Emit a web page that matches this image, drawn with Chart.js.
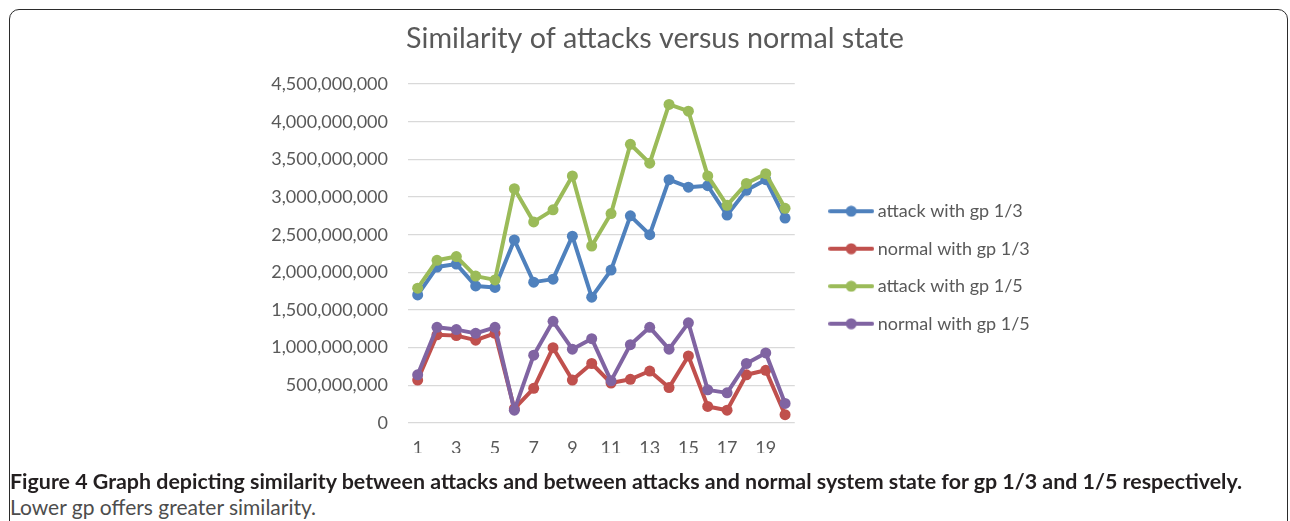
<!DOCTYPE html>
<html>
<head>
<meta charset="utf-8">
<script src="https://cdn.jsdelivr.net/npm/chart.js@4/dist/chart.umd.min.js"></script>
<style>
  html, body { margin: 0; padding: 0; background: #ffffff; }
  body { width: 1290px; height: 521px; position: relative; overflow: hidden; }
  #frame {
    position: absolute; left: 9px; top: 9px; width: 1279px; height: 600px;
    border: 1.5px solid #2b2b2b; border-radius: 10px; box-sizing: border-box;
  }
  #chart { position: absolute; left: 0; top: 0; }
  .caption {
    position: absolute; left: 10px; font-family: Lato, "Open Sans", sans-serif;
    white-space: nowrap; color: #231f20; font-size: 21px; line-height: 25px;
  }
  #cap1 { top: 469px; font-weight: bold; font-size: 21.4px; }
  #cap2 { top: 494px; color: #4d4d4d; }
</style>
</head>
<body>
<div id="frame"></div>
<canvas id="chart" width="1290" height="470"></canvas>
<div class="caption" id="cap1">Figure 4 Graph depicting similarity between attacks and between attacks and normal system state for gp 1/3 and 1/5 respectively.</div>
<div class="caption" id="cap2">Lower gp offers greater similarity.</div>
<script>
// Sample index along the horizontal axis
const categories = ['1','2','3','4','5','6','7','8','9','10','11','12','13','14','15','16','17','18','19','20'];

// Similarity scores per sample
const attackGp13 = [1.70e9, 2.07e9, 2.11e9, 1.82e9, 1.80e9, 2.43e9, 1.87e9, 1.91e9, 2.48e9, 1.67e9,
                    2.03e9, 2.75e9, 2.50e9, 3.23e9, 3.13e9, 3.15e9, 2.76e9, 3.09e9, 3.23e9, 2.72e9];
const normalGp13 = [0.57e9, 1.17e9, 1.16e9, 1.10e9, 1.19e9, 0.19e9, 0.46e9, 1.00e9, 0.57e9, 0.79e9,
                    0.53e9, 0.58e9, 0.69e9, 0.47e9, 0.89e9, 0.22e9, 0.17e9, 0.64e9, 0.70e9, 0.11e9];
const attackGp15 = [1.79e9, 2.16e9, 2.21e9, 1.95e9, 1.90e9, 3.11e9, 2.67e9, 2.83e9, 3.28e9, 2.35e9,
                    2.78e9, 3.70e9, 3.45e9, 4.23e9, 4.14e9, 3.28e9, 2.89e9, 3.18e9, 3.31e9, 2.85e9];
const normalGp15 = [0.64e9, 1.27e9, 1.24e9, 1.19e9, 1.27e9, 0.17e9, 0.90e9, 1.35e9, 0.98e9, 1.12e9,
                    0.56e9, 1.04e9, 1.27e9, 0.98e9, 1.33e9, 0.44e9, 0.40e9, 0.79e9, 0.93e9, 0.26e9];

const seriesNames = ['attack with gp 1/3', 'normal with gp 1/3', 'attack with gp 1/5', 'normal with gp 1/5'];
const seriesColors = ['#4f81bd', '#c0504d', '#9bbb59', '#8064a2'];

const yMin = 0, yMax = 4.5e9, yStep = 0.5e9;

const FONT = 'Lato, "Open Sans", sans-serif';
const TEXT_COLOR = '#595959';

// Legend swatch: a short line with a round marker in the middle
function lineMarker(color) {
  const c = document.createElement('canvas');
  c.width = 46; c.height = 12;
  const g = c.getContext('2d');
  g.strokeStyle = color; g.lineWidth = 4; g.lineCap = 'round';
  g.beginPath(); g.moveTo(2, 6); g.lineTo(44, 6); g.stroke();
  g.fillStyle = color;
  g.beginPath(); g.arc(23, 6, 5.5, 0, Math.PI * 2); g.fill();
  return c;
}

const seriesData = [attackGp13, normalGp13, attackGp15, normalGp15];
const drawOrder = [4, 3, 2, 1];

const datasets = seriesNames.map((name, i) => ({
  label: name,
  data: seriesData[i],
  borderColor: seriesColors[i],
  backgroundColor: seriesColors[i],
  borderWidth: 4,
  borderJoinStyle: 'round',
  borderCapStyle: 'round',
  pointRadius: 5.5,
  pointHoverRadius: 5.5,
  pointBorderWidth: 0,
  pointBackgroundColor: seriesColors[i],
  pointStyle: 'circle',
  order: drawOrder[i],
  tension: 0,
  fill: false
}));

const swatches = seriesColors.map(lineMarker);

// Nudges the legend block and the title into place around the plot
const blockNudge = {
  id: 'blockNudge',
  afterLayout(chart) {
    const lg = chart.legend;
    if (lg) {
      lg.left += 19.5; lg.right += 19.5 + 80;
      lg.top += 36; lg.bottom += 36;
    }
    const tb = chart.titleBlock;
    if (tb) {
      const shift = 655 - (tb.left + tb.right) / 2;
      tb.left += shift; tb.right += shift;
    }
  }
};

new Chart(document.getElementById('chart'), {
  type: 'line',
  data: { labels: categories, datasets },
  plugins: [blockNudge],
  options: {
    responsive: false,
    animation: false,
    devicePixelRatio: 1,
    layout: { padding: { left: 260, right: 317, top: 10, bottom: 17 } },
    plugins: {
      tooltip: { enabled: false },
      title: {
        display: true,
        text: 'Similarity of attacks versus normal state',
        color: TEXT_COLOR,
        font: { family: FONT, size: 28.7, weight: 'normal' },
        padding: { top: 11.8, bottom: 27.8 }
      },
      legend: {
        position: 'right',
        labels: {
          color: TEXT_COLOR,
          font: { family: FONT, size: 18 },
          usePointStyle: true,
          pointStyleWidth: 35,
          padding: 19.5,
          sort: (a, b) => a.datasetIndex - b.datasetIndex,
          generateLabels(chart) {
            return chart.data.datasets.map((ds, i) => ({
              text: ds.label,
              fillStyle: ds.borderColor,
              strokeStyle: ds.borderColor,
              lineWidth: 0,
              pointStyle: swatches[i],
              fontColor: TEXT_COLOR,
              hidden: false,
              datasetIndex: i
            }));
          }
        }
      }
    },
    scales: {
      x: {
        offset: true,
        grid: { display: false, drawTicks: false },
        border: { display: false },
        afterFit(scale) { scale.height = 30; },
        ticks: {
          autoSkip: false,
          maxRotation: 0,
          padding: 14,
          color: TEXT_COLOR,
          font: { family: FONT, size: 18 },
          callback: (v, i) => (i % 2 === 0 ? categories[i] : '')
        }
      },
      y: {
        min: yMin,
        max: yMax,
        grid: { color: '#d9d9d9', lineWidth: 1.3, drawTicks: false },
        border: { display: false },
        afterFit(scale) { scale.width = 148; },
        ticks: {
          stepSize: yStep,
          padding: 20,
          color: TEXT_COLOR,
          font: { family: FONT, size: 18 },
          callback: (v) => Number(v).toLocaleString('en-US')
        }
      }
    }
  }
});
</script>
</body>
</html>
